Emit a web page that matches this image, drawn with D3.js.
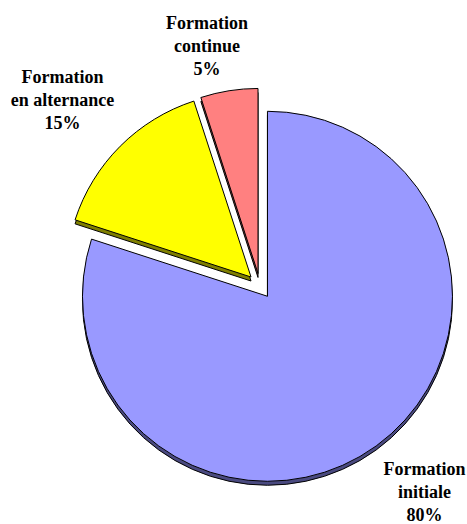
<!DOCTYPE html>
<html>
<head>
<meta charset="utf-8">
<script src="https://cdn.jsdelivr.net/npm/d3@7"></script>
<style>
  html, body { margin: 0; padding: 0; background: #fff; }
  svg { display: block; }
</style>
</head>
<body>
<div id="chart"></div>
<script>
// ---- data ----
const categories = ["Formation initiale", "Formation en alternance", "Formation continue"];
const labelLines = [["Formation", "initiale"], ["Formation", "en alternance"], ["Formation", "continue"]];
const values = [80, 15, 5];
const percentLabels = ["80%", "15%", "5%"];

// ---- styles ----
const topColors = ["#9999FF", "#FFFF00", "#FF8080"];
const sideColors = ["#4A4A80", "#808000", "#804040"];

const W = 467, H = 524;
const cx = 260, cy = 286, R = 185, explode = 12.7, depth = 4;

// label layout (text block centre x, first baseline y)
const labelLayout = [
  { x: 424.5, y: 475 },
  { x: 62.5, y: 83 },
  { x: 207, y: 29 }
];
const lineH = 23;

const svg = d3.select("#chart").append("svg")
  .attr("width", W).attr("height", H);

const pie = d3.pie().sort(null).value(d => d).startAngle(0).endAngle(2 * Math.PI);
const arcs = pie(values);
const arc = d3.arc().innerRadius(0).outerRadius(R);

const g = svg.append("g").attr("transform", `translate(${cx},${cy})`);

function offset(d) {
  const a = (d.startAngle + d.endAngle) / 2;
  return [Math.sin(a) * explode, -Math.cos(a) * explode];
}

// sides (depth)
g.selectAll("path.side").data(arcs).enter().append("path")
  .attr("class", "side")
  .attr("d", arc)
  .attr("transform", d => { const o = offset(d); return `translate(${o[0]},${o[1] + depth})`; })
  .attr("fill", (d, i) => sideColors[i])
  .attr("stroke", "#000")
  .attr("stroke-width", 1)
  .attr("stroke-linejoin", "round");

// tops
g.selectAll("path.top").data(arcs).enter().append("path")
  .attr("class", "top")
  .attr("d", arc)
  .attr("transform", d => { const o = offset(d); return `translate(${o[0]},${o[1]})`; })
  .attr("fill", (d, i) => topColors[i])
  .attr("stroke", "#000")
  .attr("stroke-width", 1)
  .attr("stroke-linejoin", "round");

// labels
arcs.forEach((d, i) => {
  const lines = labelLines[i].concat([percentLabels[i]]);
  const t = svg.append("text")
    .attr("text-anchor", "middle")
    .style("font-family", "'Liberation Serif'")
    .style("font-weight", "bold")
    .style("font-size", "18px")
    .attr("fill", "#000");
  lines.forEach((ln, k) => {
    t.append("tspan")
      .attr("x", labelLayout[i].x)
      .attr("y", labelLayout[i].y + k * lineH)
      .text(ln);
  });
});
</script>
</body>
</html>
